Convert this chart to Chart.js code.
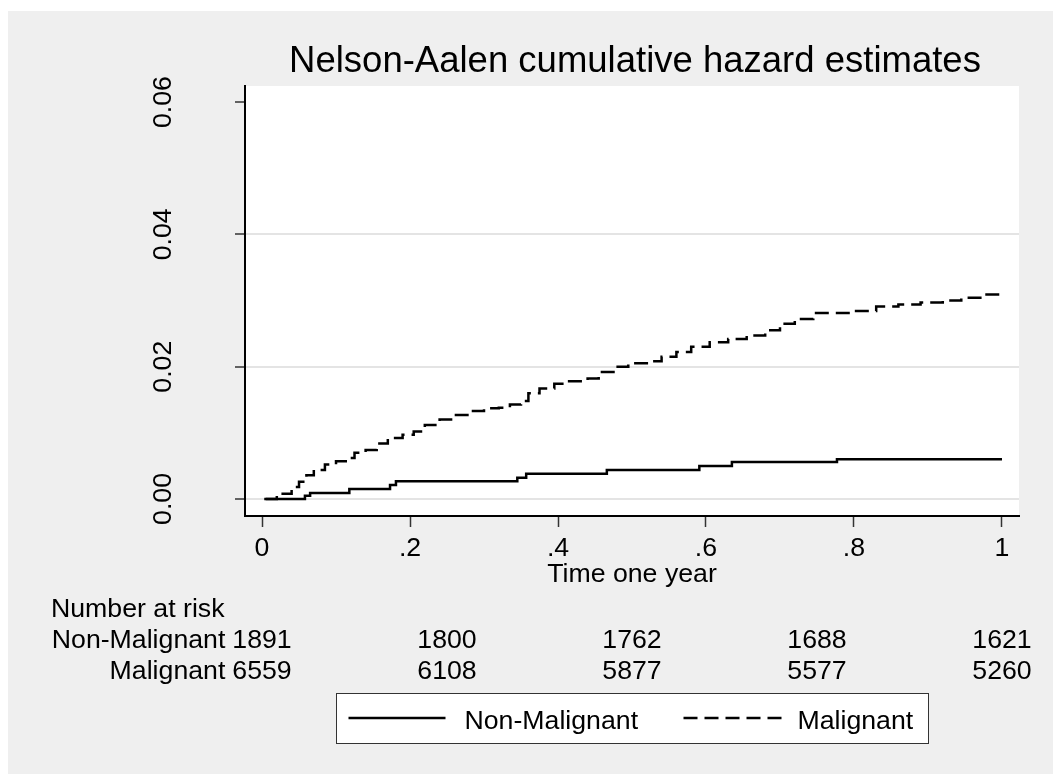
<!DOCTYPE html>
<html>
<head>
<meta charset="utf-8">
<script src="https://cdn.jsdelivr.net/npm/chart.js@4.4.1/dist/chart.umd.min.js"></script>
<style>
  html, body { margin: 0; padding: 0; background: #fff; }
  #frame { position: absolute; left: 8px; top: 11px; width: 1045px; height: 763px; background: #efefef; }
  #mainChart { position: absolute; left: 0; top: 0; }
</style>
</head>
<body>
<div id="frame"></div>
<canvas id="mainChart" width="1053" height="774"></canvas>
<script>
const FONT = '"Liberation Sans", Arial, sans-serif';
const TXT = 26.7;

// Nelson-Aalen estimates (time in years, cumulative hazard)
const nonMalTime = [0.003, 0.058, 0.065, 0.118, 0.173, 0.181, 0.345, 0.357, 0.466, 0.591, 0.635, 0.777, 1.0];
const nonMalHaz  = [0, 0.0005, 0.0009, 0.0015, 0.0021, 0.0027, 0.0032, 0.0038, 0.0044, 0.0050, 0.0056, 0.0060, 0.0060];

const malTime = [0.005, 0.02, 0.04, 0.05, 0.06, 0.07, 0.085, 0.1, 0.115, 0.125, 0.14, 0.155, 0.17, 0.19,
                 0.205, 0.22, 0.24, 0.26, 0.28, 0.3, 0.32, 0.335, 0.35, 0.36, 0.375, 0.395, 0.415, 0.44,
                 0.455, 0.475, 0.495, 0.525, 0.54, 0.56, 0.58, 0.605, 0.63, 0.655, 0.68, 0.7, 0.72, 0.745,
                 0.8, 0.83, 0.86, 0.89, 0.92, 0.945, 0.975, 1.0];
const malHaz  = [0, 0.0008, 0.0018, 0.0026, 0.0036, 0.0044, 0.0052, 0.0057, 0.0062, 0.0070, 0.0074, 0.0084, 0.0092, 0.0097,
                 0.0102, 0.0112, 0.0120, 0.0127, 0.0133, 0.0137, 0.0138, 0.0143, 0.0148, 0.0160, 0.0167, 0.0174, 0.0178, 0.0182,
                 0.0192, 0.0200, 0.0205, 0.0208, 0.0215, 0.0222, 0.0230, 0.0237, 0.0242, 0.0247, 0.0255, 0.0265, 0.0272, 0.0281,
                 0.0284, 0.0291, 0.0294, 0.0297, 0.0300, 0.0304, 0.0309, 0.0310];

const xTicks = [0, 0.2, 0.4, 0.6, 0.8, 1];
const xTickLabels = ['0', '.2', '.4', '.6', '.8', '1'];
const yTicks = [0, 0.02, 0.04, 0.06];
const yTickLabels = ['0.00', '0.02', '0.04', '0.06'];

// number at risk table
const groupNames = ['Non-Malignant', 'Malignant'];
const riskTimes  = [0, 0.25, 0.5, 0.75, 1];
const riskNonMal = [1891, 1800, 1762, 1688, 1621];
const riskMal    = [6559, 6108, 5877, 5577, 5260];

const toPoints = (ts, hs) => ts.map((t, i) => ({ x: t, y: hs[i] }));

// white plot region + title, axis title, risk table and legend
const overlay = {
    id: 'overlay',
    beforeDraw(chart) {
        const { ctx, chartArea: a } = chart;
        ctx.save();
        ctx.fillStyle = '#fff';
        ctx.fillRect(a.left, a.top, a.right - a.left, a.bottom - a.top);
        ctx.restore();
    },
    afterDraw(chart) {
        const { ctx, chartArea: a, scales } = chart;
        const xs = scales.x;
        const mid = (a.left + a.right) / 2;
        ctx.save();
        ctx.fillStyle = '#000';
        ctx.textBaseline = 'alphabetic';

        ctx.font = '36.5px ' + FONT;
        ctx.textAlign = 'center';
        ctx.fillText('Nelson-Aalen cumulative hazard estimates', mid + 3, 72);

        ctx.font = TXT + 'px ' + FONT;
        ctx.fillText('Time one year', mid, 582);

        ctx.textAlign = 'left';
        ctx.fillText('Number at risk', 51, 617);
        [[riskNonMal, 648], [riskMal, 679]].forEach(([vals, y], i) => {
            const x0 = xs.getPixelForValue(riskTimes[0]);
            ctx.textAlign = 'right';
            ctx.fillText(groupNames[i], x0 - ctx.measureText(String(vals[0])).width / 2 - 7, y);
            ctx.textAlign = 'center';
            vals.forEach((v, j) => ctx.fillText(String(v), xs.getPixelForValue(riskTimes[j]), y));
        });

        // legend box
        const L = Math.round(mid - 296) + 0.5;
        const W = 592;
        ctx.fillStyle = '#fff';
        ctx.fillRect(L, 693.5, W, 50);
        ctx.strokeStyle = '#333';
        ctx.lineWidth = 1;
        ctx.strokeRect(L, 693.5, W, 50);

        ctx.strokeStyle = '#000';
        ctx.lineWidth = 2.5;
        ctx.beginPath();
        ctx.moveTo(L + 12, 718);
        ctx.lineTo(L + 109, 718);
        ctx.stroke();
        ctx.setLineDash([14, 7]);
        ctx.beginPath();
        ctx.moveTo(L + 347, 718);
        ctx.lineTo(L + 445, 718);
        ctx.stroke();
        ctx.setLineDash([]);

        ctx.fillStyle = '#000';
        ctx.textAlign = 'left';
        ctx.fillText(groupNames[0], L + 128, 729);
        ctx.fillText(groupNames[1], L + 461, 729);
        ctx.restore();
    }
};

new Chart(document.getElementById('mainChart'), {
    type: 'line',
    data: {
        datasets: [
            {
                label: groupNames[0],
                data: toPoints(nonMalTime, nonMalHaz),
                borderColor: '#000',
                borderWidth: 2.5,
                stepped: true,
                pointRadius: 0,
                fill: false,
            },
            {
                label: groupNames[1],
                data: toPoints(malTime, malHaz),
                borderColor: '#000',
                borderWidth: 2.5,
                borderDash: [14, 7],
                stepped: true,
                pointRadius: 0,
                fill: false,
            }
        ]
    },
    options: {
        responsive: false,
        animation: false,
        layout: { padding: { top: 86, right: 34, bottom: 0, left: 0 } },
        plugins: {
            legend: { display: false },
            tooltip: { enabled: false }
        },
        scales: {
            x: {
                type: 'linear',
                min: -0.023,
                max: 1.023,
                afterBuildTicks: s => { s.ticks = xTicks.map(v => ({ value: v })); },
                afterFit: s => { s.height = 258; },
                border: { color: '#000', width: 2 },
                grid: { drawOnChartArea: false, tickColor: '#333', tickLength: 11, tickWidth: 1.5 },
                ticks: {
                    minRotation: 0, maxRotation: 0, padding: 6, color: '#000',
                    font: { size: TXT, family: FONT },
                    callback: (v, i) => xTickLabels[i]
                }
            },
            y: {
                type: 'linear',
                min: -0.00257,
                max: 0.06242,
                afterBuildTicks: s => { s.ticks = yTicks.map(v => ({ value: v })); },
                afterFit: s => { s.width = 245; },
                border: { color: '#000', width: 2 },
                grid: {
                    color: c => (c.tick && c.tick.value < 0.05) ? '#e4e4e4' : 'rgba(0,0,0,0)',
                    lineWidth: 2,
                    tickColor: '#333', tickLength: 10, tickWidth: 1.5
                },
                ticks: {
                    minRotation: 90, maxRotation: 90, crossAlign: 'center', padding: 45, color: '#000',
                    font: { size: TXT, family: FONT },
                    callback: (v, i) => yTickLabels[i]
                }
            }
        }
    },
    plugins: [overlay]
});
</script>
</body>
</html>
